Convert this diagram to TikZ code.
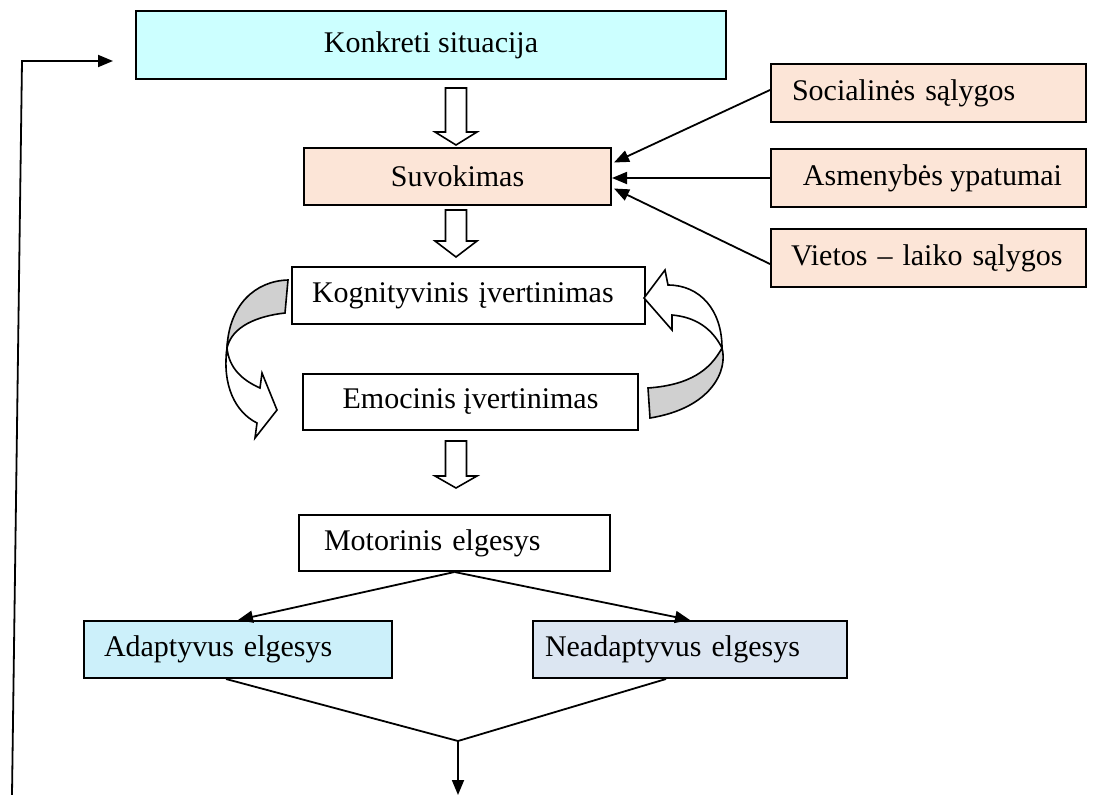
\documentclass[tikz,border=0pt]{standalone}
\usepackage{fontspec}
\setmainfont{Liberation Serif}
\usetikzlibrary{arrows.meta,calc}
\definecolor{konkc}{HTML}{CCFFFF}
\definecolor{peach}{HTML}{FCE5D7}
\definecolor{adac}{HTML}{CCF0FA}
\definecolor{neadc}{HTML}{DCE6F2}
\definecolor{twist}{HTML}{D0D0D0}
\newcommand\downblock[4]{%
  \draw[blk] (#1-10.5,#2) -- (#1+10.5,#2) -- (#1+10.5,#3) -- (#1+21,#3) -- (#1,#4) -- (#1-21,#3) -- (#1-10.5,#3) -- cycle;}
\begin{document}
\begin{tikzpicture}[x=1pt,y=-1pt,
  box/.style={draw=black, line width=2pt, inner ysep=0pt, anchor=north west,
    font=\fontsize{30}{36}\selectfont},
  cbox/.style={box, inner xsep=0pt, align=center},
  conn/.style={draw=black, line width=1.8pt, -{Triangle[length=15pt,width=12pt]}},
  plain/.style={draw=black, line width=1.8pt},
  blk/.style={draw=black, line width=1.6pt, fill=white, line join=miter},
  curvestroke/.style={draw=black, line width=1.6pt, line join=miter}]
\useasboundingbox (0,0) rectangle (1096,795);
\fill[white] (0,0) rectangle (1096,795);

% boxes
\node[cbox, fill=konkc, minimum width=590pt, minimum height=68pt] (konk) at (135,10) {Konkreti situacija};
\node[cbox, fill=peach, minimum width=307pt, minimum height=57pt] (suv) at (303,147) {Suvokimas};
\node[box, fill=peach, minimum height=58pt, inner xsep=21pt, text width=273pt, align=left] (soc) at (770,63) {Socialinės sąlygos};
\node[cbox, fill=peach, minimum width=315pt, minimum height=58pt] (asm) at (770,148) {\hspace*{8pt}Asmenybės ypatumai};
\node[box, fill=peach, minimum height=58pt, inner xsep=20pt, text width=275pt, align=left] (vie) at (770,228) {Vietos – laiko sąlygos};
\node[box, fill=white, minimum height=57pt, inner xsep=20pt, text width=313pt, align=left] (kog) at (291,266) {Kognityvinis įvertinimas};
\node[cbox, fill=white, minimum width=335pt, minimum height=56pt] (emo) at (302,373) {Emocinis įvertinimas};
\node[box, fill=white, minimum height=56pt, inner xsep=25pt, text width=261pt, align=left] (mot) at (298,514) {Motorinis elgesys};
\node[box, fill=adac, minimum height=57pt, inner xsep=20pt, text width=268pt, align=left] (ada) at (83,620) {Adaptyvus elgesys};
\node[box, fill=neadc, minimum height=57pt, inner xsep=12pt, text width=290pt, align=left] (nead) at (532,620) {Neadaptyvus elgesys};

% hollow block arrows
\downblock{456}{88}{132}{145}
\downblock{456}{210}{241}{257}
\downblock{456}{441}{476}{488}

% side influences
\draw[conn] ($(soc.west)+(0,-3)$) -- ($(suv.east)+(2,-14)$);
\draw[conn] (asm.west) -- (asm.west -| suv.east);
\draw[conn] ($(vie.west)+(0,6)$) -- ($(suv.east)+(2,12)$);

% motor behaviour split
\draw[conn] (mot.south) -- (ada.north);
\draw[conn] (mot.south) -- (nead.north);

% merge and exit
\coordinate (join) at (458,741);
\coordinate (exitpt) at (458,795);
\draw[plain] ($(ada.south)+(-12,0)$) -- (join);
\draw[plain] ($(nead.south)+(-24,0)$) -- (join);
\draw[conn] (join) -- (exitpt);

% feedback loop
\coordinate (fb0) at (12,795);
\coordinate (fb1) at (22,61);
\coordinate (fb2) at (113,61);
\draw[conn] (fb0) -- (fb1) -- (fb2);

% left curved arrow (kognityvinis -> emocinis)
\draw[curvestroke, fill=twist] (288,280) .. controls (255,281) and (229,305) .. (227,348)
  .. controls (232,326) and (258,316) .. (285,313) -- cycle;
\draw[curvestroke, fill=white] (227,348) .. controls (222,385) and (235,412) .. (257,423)
  -- (255,438) -- (277,410) -- (262,373) -- (260,388)
  .. controls (242,380) and (229,368) .. (227,348) -- cycle;

% right curved arrow (emocinis -> kognityvinis)
\draw[curvestroke, fill=white] (668,285) .. controls (700,285) and (722,310) .. (722,348)
  .. controls (712,328) and (695,317) .. (672,315)
  -- (672,330) -- (644,298) -- (665,270) -- cycle;
\draw[curvestroke, fill=twist] (722,348) .. controls (728,370) and (712,408) .. (650,418)
  -- (648,388) .. controls (690,385) and (710,370) .. (722,348) -- cycle;
\end{tikzpicture}
\end{document}
